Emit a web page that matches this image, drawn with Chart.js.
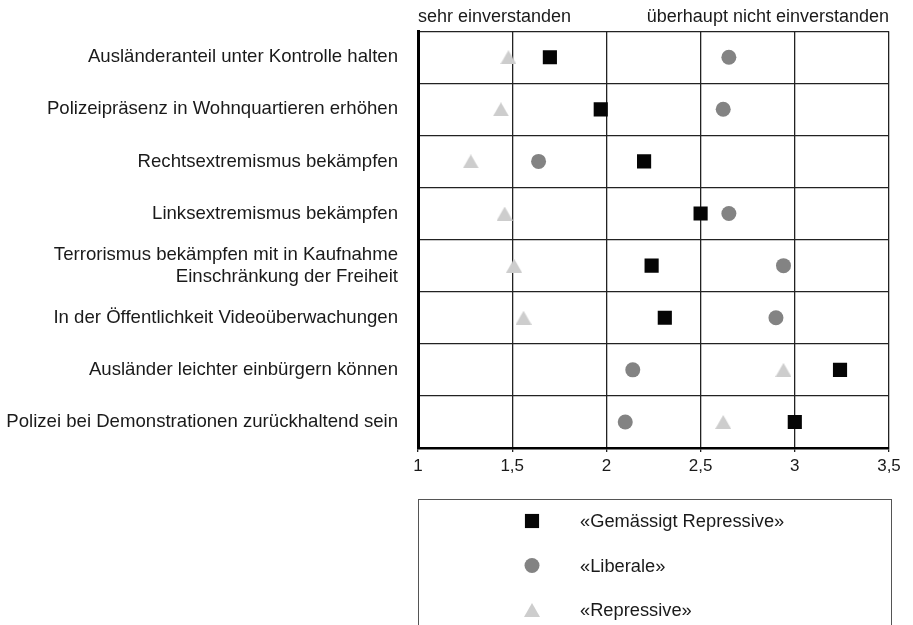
<!DOCTYPE html>
<html>
<head>
<meta charset="utf-8">
<script src="https://cdn.jsdelivr.net/npm/chart.js@4.4.0/dist/chart.umd.min.js"></script>
<style>
  html, body { margin: 0; padding: 0; background: #fff; }
  #wrap { width: 913px; height: 625px; }
</style>
</head>
<body>
<div id="wrap"><canvas id="chart" width="913" height="625"></canvas></div>
<script>
// Kategorien (von oben nach unten)
const categories = [
    'Ausländeranteil unter Kontrolle halten',
    'Polizeipräsenz in Wohnquartieren erhöhen',
    'Rechtsextremismus bekämpfen',
    'Linksextremismus bekämpfen',
    ['Terrorismus bekämpfen mit in Kaufnahme', 'Einschränkung der Freiheit'],
    'In der Öffentlichkeit Videoüberwachungen',
    'Ausländer leichter einbürgern können',
    'Polizei bei Demonstrationen zurückhaltend sein'
];

// Mittelwerte je Gruppe
const gemaessigtRepressive = [1.70, 1.97, 2.20, 2.50, 2.24, 2.31, 3.24, 3.00];
const liberale = [2.65, 2.62, 1.64, 2.65, 2.94, 2.90, 2.14, 2.10];
const repressive = [1.48, 1.44, 1.28, 1.46, 1.51, 1.56, 2.94, 2.62];

const xTicks = [1, 1.5, 2, 2.5, 3, 3.5];
const seriesNames = ['«Gemässigt Repressive»', '«Liberale»', '«Repressive»'];
const scaleLabels = ['sehr einverstanden', 'überhaupt nicht einverstanden'];

const FONT = 'Arial, "Liberation Sans", Helvetica, sans-serif';
const TEXT = '#1a1a1a';

function toPoints(values) {
    return values.map((v, i) => ({ x: v, y: i }));
}

// Dreieck als Bild, damit es mittig in der Zeile sitzt
function triangleImage(color) {
    const c = document.createElement('canvas');
    c.width = 16;
    c.height = 14;
    const g = c.getContext('2d');
    g.fillStyle = color;
    g.beginPath();
    g.moveTo(8, 0);
    g.lineTo(16, 14);
    g.lineTo(0, 14);
    g.closePath();
    g.fill();
    return c;
}
const triangle = triangleImage('#cdcdcd');

// Beschriftung oben: Skalenenden
const topLabels = {
    id: 'topLabels',
    afterDraw(chart) {
        const { ctx, chartArea } = chart;
        ctx.save();
        ctx.font = '18px ' + FONT;
        ctx.fillStyle = TEXT;
        ctx.textBaseline = 'middle';
        ctx.textAlign = 'left';
        ctx.fillText(scaleLabels[0], chartArea.left, 17);
        ctx.textAlign = 'right';
        ctx.fillText(scaleLabels[1], chartArea.right, 17);
        ctx.restore();
    }
};

// Legende im Kasten unter dem Diagramm
const boxLegend = {
    id: 'boxLegend',
    afterDraw(chart) {
        const { ctx, chartArea } = chart;
        const top = 499;
        ctx.save();
        ctx.strokeStyle = '#555';
        ctx.lineWidth = 1;
        ctx.strokeRect(chartArea.left + 0.5, top + 0.5, chartArea.right - chartArea.left + 2, 200);
        ctx.font = '18.3px ' + FONT;
        ctx.textBaseline = 'middle';
        ctx.textAlign = 'left';
        chart.data.datasets.forEach((ds, i) => {
            const y = 521 + i * 44.5;
            ctx.fillStyle = ds.backgroundColor;
            ctx.strokeStyle = ds.backgroundColor;
            Chart.helpers.drawPoint(ctx, {
                pointStyle: ds.pointStyle,
                radius: ds.pointRadius,
                rotation: 0,
                borderWidth: 0
            }, 532, y);
            ctx.fillStyle = TEXT;
            ctx.fillText(seriesNames[i], 580, y + 1);
        });
        ctx.restore();
    }
};

new Chart(document.getElementById('chart'), {
    type: 'scatter',
    data: {
        datasets: [
            {
                label: seriesNames[0],
                data: toPoints(gemaessigtRepressive),
                pointStyle: 'rect',
                pointRadius: 10,
                backgroundColor: '#050505',
                borderColor: '#050505',
                borderWidth: 0
            },
            {
                label: seriesNames[1],
                data: toPoints(liberale),
                pointStyle: 'circle',
                pointRadius: 7.5,
                backgroundColor: '#838383',
                borderColor: '#838383',
                borderWidth: 0
            },
            {
                label: seriesNames[2],
                data: toPoints(repressive),
                pointStyle: triangle,
                pointRadius: 8,
                backgroundColor: '#cdcdcd',
                borderColor: '#cdcdcd',
                borderWidth: 0
            }
        ]
    },
    options: {
        responsive: false,
        animation: false,
        layout: { padding: { top: 31, right: 24, bottom: 0, left: 0 } },
        plugins: {
            legend: { display: false },
            tooltip: { enabled: false }
        },
        scales: {
            x: {
                type: 'linear',
                min: 1,
                max: 3.5,
                afterBuildTicks(scale) {
                    scale.ticks = xTicks.map(v => ({ value: v }));
                },
                afterFit(scale) { scale.height = 177; },
                ticks: {
                    font: { family: FONT, size: 17 },
                    color: TEXT,
                    padding: 4,
                    maxRotation: 0,
                    callback: v => String(v).replace('.', ',')
                },
                grid: {
                    color: '#222',
                    lineWidth: 1.3,
                    tickLength: 4,
                    drawOnChartArea: true
                },
                border: { color: '#000', width: 2.5 }
            },
            y: {
                type: 'category',
                labels: categories,
                offset: true,
                afterFit(scale) { scale.width = 418; },
                ticks: {
                    font: { family: FONT, size: 18.6, lineHeight: 1.2 },
                    color: TEXT,
                    padding: 20,
                    autoSkip: false
                },
                grid: {
                    offset: true,
                    color: '#222',
                    lineWidth: 1.3,
                    drawTicks: false
                },
                border: { color: '#000', width: 3 }
            }
        }
    },
    plugins: [topLabels, boxLegend]
});
</script>
</body>
</html>
